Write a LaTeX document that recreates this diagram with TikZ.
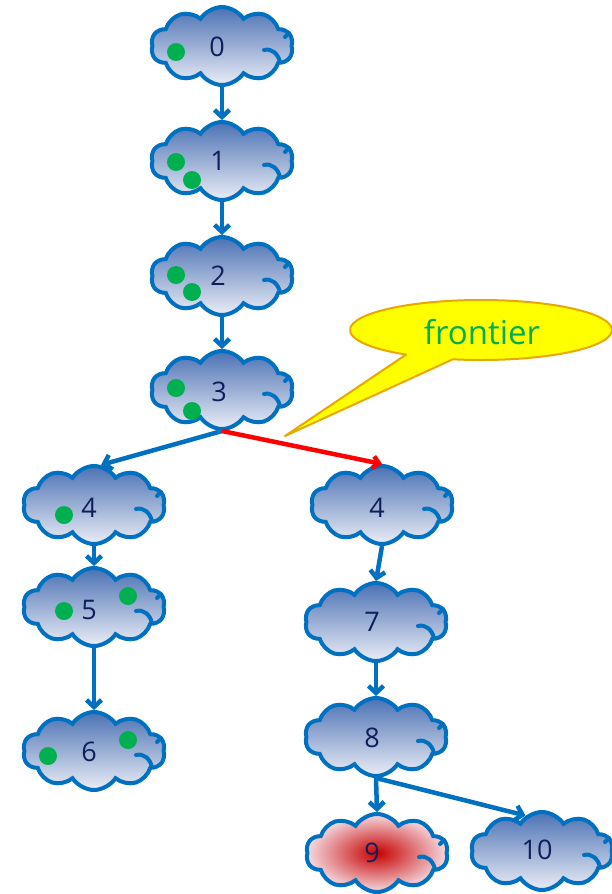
\documentclass[tikz,border=0pt]{standalone}
\usepackage{fontspec}
\setmainfont{Open Sans}
\usetikzlibrary{shapes.symbols,arrows.meta}
\definecolor{edgeblue}{HTML}{0070C0}
\definecolor{cloudtop}{HTML}{4C72B4}
\definecolor{cloudmid}{HTML}{A3B5D9}
\definecolor{cloudbot}{HTML}{EAEDF6}
\definecolor{labelnavy}{HTML}{0F1F5C}
\definecolor{dotgreen}{HTML}{00B050}
\definecolor{hotred}{HTML}{C80000}
\definecolor{palered}{HTML}{F4DCE2}
\definecolor{calloutfill}{HTML}{FFFF00}
\definecolor{calloutedge}{HTML}{E8A800}
\definecolor{calloutgreen}{HTML}{00B050}
\begin{document}
\begin{tikzpicture}[x=1pt,y=-1pt,
  cloudbox/.style={cloud, cloud puffs=10, cloud puff arc=115, cloud ignores aspect,
    minimum width=142pt, minimum height=78pt, inner sep=0pt,
    draw=edgeblue, line width=4pt, top color=cloudtop, middle color=cloudmid, bottom color=cloudbot},
  hotcloud/.style={cloudbox, inner color=hotred, outer color=palered},
  crease/.style={draw=edgeblue, line width=4pt, line cap=round},
  num/.style={text=labelnavy, font=\fontsize{27}{27}\selectfont, inner sep=0pt},
  token/.style={circle, fill=dotgreen, minimum size=18pt, inner sep=0pt},
  flow/.style={draw=edgeblue, line width=4.5pt, -{Straight Barb[length=7pt,width=15pt]}},
  hotflow/.style={draw=red, line width=4.5pt, -{Straight Barb[length=6pt,width=12pt]}}]
\useasboundingbox (0,0) rectangle (612,894);

% clouds
\node[cloudbox] (c0) at (222,46) {};
\node[cloudbox] (c1) at (222,161) {};
\node[cloudbox] (c2) at (222,276) {};
\node[cloudbox] (c3) at (222,390) {};
\node[cloudbox] (c4l) at (94,505) {};
\node[cloudbox] (c5) at (94,607) {};
\node[cloudbox] (c6) at (94,751) {};
\node[cloudbox] (c4r) at (382,505) {};
\node[cloudbox] (c7) at (376,622) {};
\node[cloudbox] (c8) at (376,737) {};
\node[hotcloud] (c9) at (377,853) {};
\node[cloudbox] (c10) at (542,851) {};

% inner creases on the right side of every cloud
\foreach \c in {c0,c1,c2,c3,c4l,c5,c6,c4r,c7,c8,c9,c10}{
  \draw[crease] (\c.center) ++(42,4) .. controls ++(8,-2) and ++(-2,-8) .. ++(16,12);
  \draw[crease] (\c.center) ++(63,-9) -- ++(4,-4);
}

% numbers
\node[num] (n0) at (217,47) {0};
\node[num] (n1) at (218,161) {1};
\node[num] (n2) at (218,276) {2};
\node[num] (n3) at (219,392) {3};
\node[num] (n4l) at (89,508) {4};
\node[num] (n5) at (89,610) {5};
\node[num] (n6) at (89,752) {6};
\node[num] (n4r) at (377,508) {4};
\node[num] (n7) at (372,622) {7};
\node[num] (n8) at (372,738) {8};
\node[num] (n9) at (372,853) {9};
\node[num] (n10) at (537,850) {10};

% green tokens
\node[token] (t0) at (176,52) {};
\node[token] (t1a) at (176,162) {};
\node[token] (t1b) at (192,180) {};
\node[token] (t2a) at (176,275) {};
\node[token] (t2b) at (192,292) {};
\node[token] (t3a) at (176,388) {};
\node[token] (t3b) at (192,411) {};
\node[token] (t4) at (64,515) {};
\node[token] (t5a) at (64,611) {};
\node[token] (t5b) at (128,596) {};
\node[token] (t6a) at (48,756) {};
\node[token] (t6b) at (128,740) {};

% connectors
\draw[flow] (c0.south) -- (c1.north);
\draw[flow] (c1.south) -- (c2.north);
\draw[flow] (c2.south) -- (c3.north);
\draw[flow] (c3.south) -- (c4l.80);
\draw[hotflow] (c3.south) -- (c4r.north);
\draw[flow] (c4l.south) -- (c5.north);
\draw[flow] (c5.south) -- (c6.north);
\draw[flow] (c4r.south) -- (c7.north);
\draw[flow] (c7.south) -- (c8.north);
\draw[flow] (c8.south) -- (c9.north);
\draw[flow] (c8.south) -- (c10.115);

% speech bubble
\coordinate (tip) at (285,436);
\filldraw[fill=calloutfill, draw=calloutedge, line width=2pt, line join=round]
  (481,330) ++(102.4:131 and 30)
  arc[start angle=102.4, end angle=-235.1, x radius=131, y radius=30]
  -- (tip) -- cycle;
\node[text=calloutgreen, font=\fontsize{33}{33}\selectfont, inner sep=0pt] (lab) at (482,332) {frontier};
\end{tikzpicture}
\end{document}
